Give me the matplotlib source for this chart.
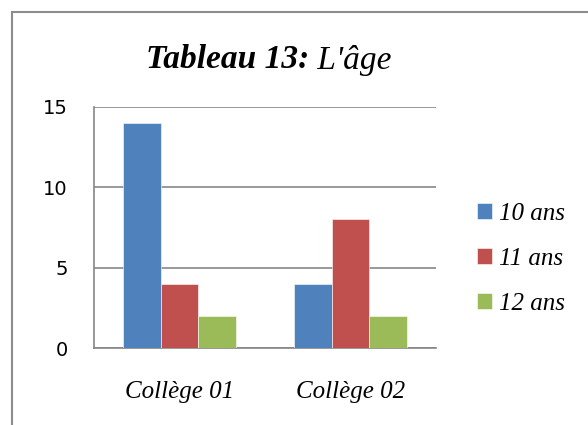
import numpy as np
import matplotlib.pyplot as plt
from matplotlib.patches import Rectangle

# Données
colleges = ['Collège 01', 'Collège 02']
series = ['10 ans', '11 ans', '12 ans']
ans_10 = [14, 4]
ans_11 = [4, 8]
ans_12 = [2, 2]
couleurs = ['#4F81BD', '#C0504D', '#9BBB59']

fig = plt.figure(figsize=(5.88, 4.25), dpi=100)
ax = fig.add_axes([94/588, 1-348/425, (436-94)/588, (348-107)/425])

x = np.arange(len(colleges))
w = 0.222
for i, (vals, lab) in enumerate(zip([ans_10, ans_11, ans_12], series)):
    ax.bar(x + (i - 1) * w, vals, w, color=couleurs[i], label=lab,
           edgecolor='white', linewidth=0.4, zorder=3)

ax.set_xlim(-0.5, 1.5)
ax.set_ylim(0, 15)
ax.set_yticks([0, 5, 10, 15])
ax.yaxis.grid(True, color='#868686', linewidth=1.2, zorder=0)
for s in ['top', 'right']:
    ax.spines[s].set_visible(False)
for s in ['left', 'bottom']:
    ax.spines[s].set_color('#868686')
    ax.spines[s].set_linewidth(1.2)
ax.tick_params(axis='both', length=0)
ax.tick_params(axis='y', pad=19, labelsize=14)
ax.set_xticks(x)
ax.set_xticklabels(colleges, fontfamily='Liberation Serif', fontstyle='italic', fontsize=18)
ax.tick_params(axis='x', pad=24)

# Titre
tx = 309/588
fig.text(tx, 1-60/425, r'Tableau 13:', ha='right', va='center',
         fontfamily='Liberation Serif', fontweight='bold', fontstyle='italic', fontsize=24)
fig.text(tx, 1-60/425, " L'âge", ha='left', va='center',
         fontfamily='Liberation Serif', fontstyle='italic', fontsize=24)

# Légende
leg = fig.legend(loc='center left', bbox_to_anchor=(454/588, 1-259/425), frameon=False,
                 prop={'family': 'Liberation Serif', 'style': 'italic', 'size': 18},
                 handlelength=0.6, handleheight=0.6, handletextpad=0.3, labelspacing=0.92)

# Cadre
fig.patches.append(Rectangle((12/588, -0.1), 1.2, 1.1 - 12/425, transform=fig.transFigure,
                             fill=False, edgecolor='#8c8c8c', linewidth=1.5))

fig.savefig('out.png', dpi=100)
